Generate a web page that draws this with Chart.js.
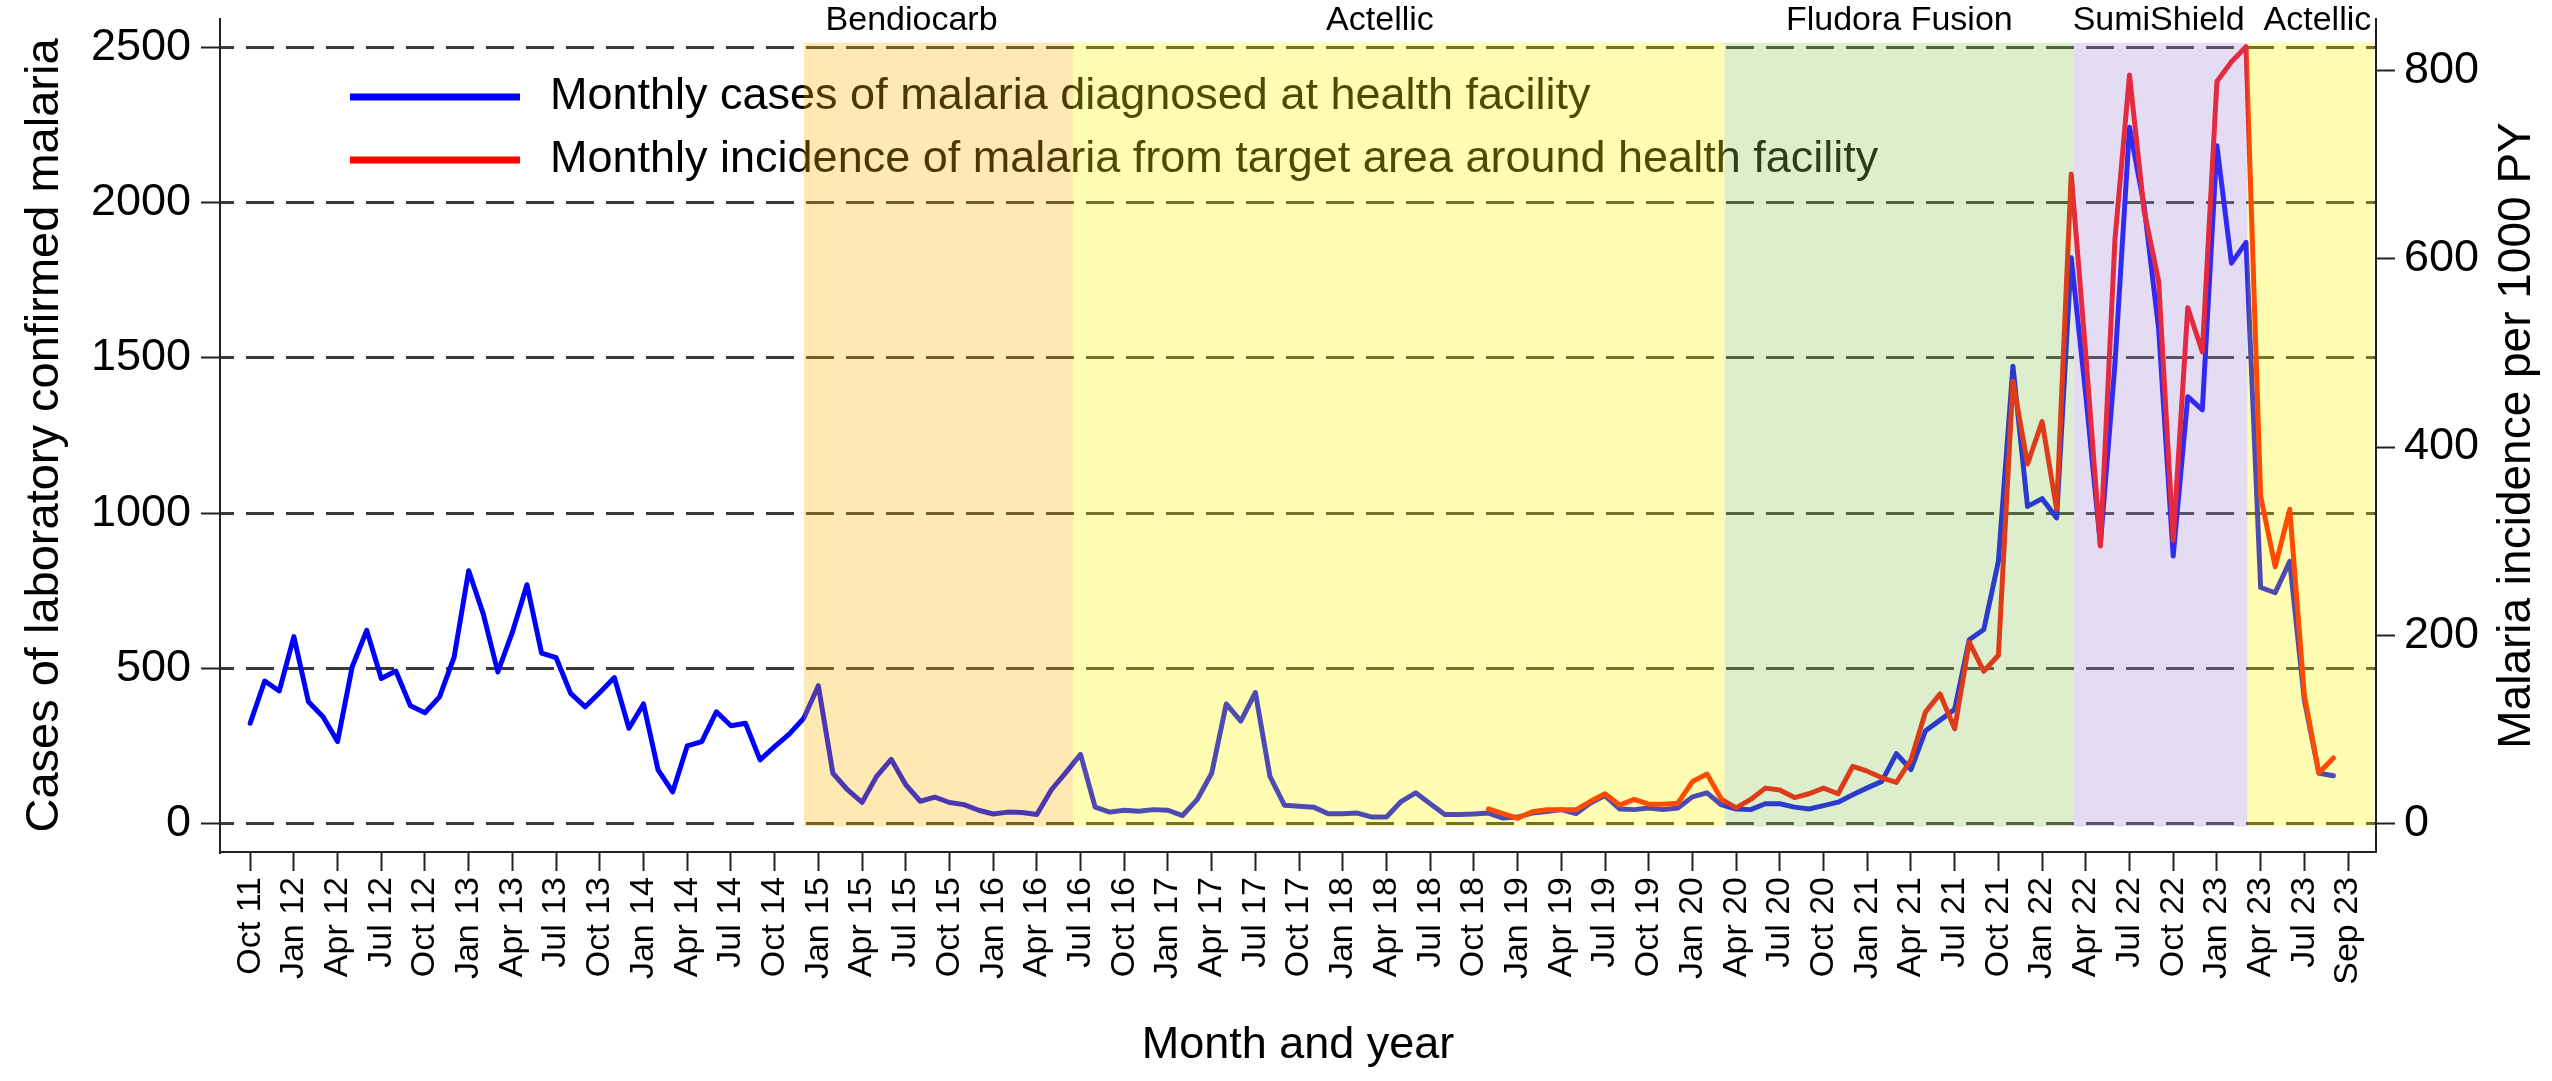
<!DOCTYPE html>
<html>
<head>
<meta charset="utf-8">
<script src="https://cdn.jsdelivr.net/npm/chart.js@4.4.1/dist/chart.umd.min.js"></script>
<style>
  html, body { margin: 0; padding: 0; background: #fff; }
  #wrap { width: 2552px; height: 1081px; }
</style>
</head>
<body>
<div id="wrap"><canvas id="malariaChart" width="2552" height="1081"></canvas></div>
<script>
// monthly series, index 0 = Oct 2011, index 143 = Sep 2023

// cases of laboratory confirmed malaria at the health facility (left axis)
const casesMonthly = [
  324, 460, 428, 603, 393, 345, 265, 505, 623, 468, 492, 380,
  358, 409, 537, 815, 676, 489, 617, 770, 550, 535, 420, 377,
  423, 471, 308, 386, 174, 103, 251, 265, 361, 316, 324, 206,
  249, 289, 340, 445, 163, 110, 69, 153, 208, 126, 73, 86,
  69, 62, 44, 32, 38, 37, 30, 110, 166, 224, 54, 38,
  44, 41, 46, 44, 27, 78, 163, 386, 331, 423, 153, 60,
  57, 54, 33, 33, 35, 22, 22, 72, 100, 65, 30, 30,
  32, 35, 19, 22, 35, 40, 46, 33, 67, 91, 48, 46,
  51, 46, 51, 87, 100, 61, 48, 46, 65, 65, 54, 48,
  59, 70, 94, 116, 137, 226, 175, 300, 334, 369, 593, 626,
  845, 1473, 1022, 1047, 985, 1822, 1380, 900, 1480, 2242, 1990, 1594,
  862, 1375, 1333, 2183, 1805, 1872, 761, 744, 845, 399, 163, 155
];

// incidence per 1000 PY in the target area (right axis), starts Nov 2018
const incidenceStart = 85;
const incidenceMonthly = [
  16, 11, 6, 13, 15, 15, 15, 24, 32, 20, 26, 21,
  21, 22, 45, 53, 26, 17, 26, 38, 36, 28, 32, 38,
  32, 61, 56, 49, 44, 68, 119, 138, 101, 193, 162, 179,
  470, 382, 427, 334, 690, 498, 295, 620, 795, 651, 576, 301,
  548, 501, 788, 809, 825, 348, 273, 334, 137, 54, 70
];

const tickLabels = [
  'Oct 11',
  'Jan 12', 'Apr 12', 'Jul 12', 'Oct 12',
  'Jan 13', 'Apr 13', 'Jul 13', 'Oct 13',
  'Jan 14', 'Apr 14', 'Jul 14', 'Oct 14',
  'Jan 15', 'Apr 15', 'Jul 15', 'Oct 15',
  'Jan 16', 'Apr 16', 'Jul 16', 'Oct 16',
  'Jan 17', 'Apr 17', 'Jul 17', 'Oct 17',
  'Jan 18', 'Apr 18', 'Jul 18', 'Oct 18',
  'Jan 19', 'Apr 19', 'Jul 19', 'Oct 19',
  'Jan 20', 'Apr 20', 'Jul 20', 'Oct 20',
  'Jan 21', 'Apr 21', 'Jul 21', 'Oct 21',
  'Jan 22', 'Apr 22', 'Jul 22', 'Oct 22',
  'Jan 23', 'Apr 23', 'Jul 23', 'Sep 23'
];
const leftTicks = [0, 500, 1000, 1500, 2000, 2500];
const rightTicks = [0, 200, 400, 600, 800];

// spraying campaigns (month index on the x axis)
const bandNames = ['Bendiocarb', 'Actellic', 'Fludora Fusion', 'SumiShield', 'Actellic'];
const bandFrom = [38.0, 56.5, 101.2, 125.1, 137.1];
const bandTo = [56.5, 101.2, 125.1, 137.1, 145.8];
const bandLabelAt = [45.4, 77.55, 113.2, 131.0, 141.9];

const legendLabels = [
  'Monthly cases of malaria diagnosed at health facility',
  'Monthly incidence of malaria from target area around health facility'
];

const FONT = "'Liberation Sans', Arial, sans-serif";
Chart.defaults.font.family = FONT;
Chart.defaults.color = '#000';

const bandColors = [
  'rgba(252,182,2,0.3)',
  'rgba(255,248,0,0.3)',
  'rgba(142,198,85,0.3)',
  'rgba(162,138,212,0.3)',
  'rgba(255,248,0,0.3)'
];

const overlayPlugin = {
  id: 'overlay',
  afterDatasetsDraw(chart) {
    const { ctx, scales: { x, y } } = chart;
    ctx.save();

    // legend (sits under the band shading, as in the original)
    const legendColors = ['#0000ff', '#ff0000'];
    const legendY = [97, 160];
    ctx.font = '45px ' + FONT;
    ctx.textBaseline = 'middle';
    ctx.textAlign = 'left';
    for (let i = 0; i < legendLabels.length; i++) {
      ctx.strokeStyle = legendColors[i];
      ctx.lineWidth = 7;
      ctx.beginPath();
      ctx.moveTo(350, legendY[i]);
      ctx.lineTo(520, legendY[i]);
      ctx.stroke();
      ctx.fillStyle = '#000';
      ctx.fillText(legendLabels[i], 550, legendY[i]);
    }

    // translucent campaign bands drawn over the lines
    const top = y.getPixelForValue(2514);
    const bottom = y.getPixelForValue(-8);
    for (let i = 0; i < bandNames.length; i++) {
      const x0 = x.getPixelForValue(bandFrom[i]);
      const x1 = x.getPixelForValue(bandTo[i]);
      ctx.fillStyle = bandColors[i];
      ctx.fillRect(x0, top, x1 - x0, bottom - top);
    }

    // campaign names above the plot
    ctx.fillStyle = '#000';
    ctx.font = '34px ' + FONT;
    ctx.textAlign = 'center';
    ctx.textBaseline = 'alphabetic';
    for (let i = 0; i < bandNames.length; i++) {
      ctx.fillText(bandNames[i], x.getPixelForValue(bandLabelAt[i]), 30);
    }

    // right axis title reads bottom to top
    ctx.translate(chart.width - 35, (chart.chartArea.top + chart.chartArea.bottom) / 2);
    ctx.rotate(-Math.PI / 2);
    ctx.font = '46px ' + FONT;
    ctx.textBaseline = 'middle';
    ctx.fillText('Malaria incidence per 1000 PY', 0, 0);
    ctx.restore();
  }
};

const casesPoints = casesMonthly.map((v, i) => ({ x: i, y: v }));
const incidencePoints = incidenceMonthly.map((v, i) => ({ x: incidenceStart + i, y: v }));

// keep the y axes from reserving room for half-label overhang
function fixVertical(width) {
  return s => { s.width = width; s.paddingTop = 0; s.paddingBottom = 0; };
}

const ctx = document.getElementById('malariaChart');
new Chart(ctx, {
  type: 'line',
  data: {
    datasets: [
      {
        label: legendLabels[1],
        data: incidencePoints,
        yAxisID: 'y2',
        borderColor: '#ff0000',
        backgroundColor: '#ff0000',
        borderWidth: 5,
        pointRadius: 0,
        borderJoinStyle: 'round',
        borderCapStyle: 'round',
        tension: 0,
        order: 0
      },
      {
        label: legendLabels[0],
        data: casesPoints,
        yAxisID: 'y',
        borderColor: '#0000ff',
        backgroundColor: '#0000ff',
        borderWidth: 5,
        pointRadius: 0,
        borderJoinStyle: 'round',
        borderCapStyle: 'round',
        tension: 0,
        order: 1
      }
    ]
  },
  options: {
    responsive: false,
    devicePixelRatio: 1,
    animation: false,
    layout: { padding: { top: 19, left: 0, right: 0, bottom: 0 } },
    plugins: {
      legend: { display: false },
      tooltip: { enabled: false },
      title: { display: false }
    },
    scales: {
      x: {
        type: 'linear',
        min: -2.07,
        max: 145.92,
        afterBuildTicks: s => { s.ticks = tickLabels.map((_, i) => ({ value: i * 3 })); },
        afterFit: s => { s.height = 229; s.paddingLeft = 0; s.paddingRight = 0; },
        ticks: {
          autoSkip: false,
          minRotation: 90,
          maxRotation: 90,
          padding: 6,
          font: { size: 34 },
          color: '#000',
          callback: (v, i) => tickLabels[i]
        },
        grid: { display: true, drawOnChartArea: false, drawTicks: true, tickLength: 19, tickColor: '#222', tickWidth: 2 },
        border: { display: true, color: '#222', width: 2 },
        title: { display: true, text: 'Month and year', font: { size: 45 }, color: '#000', padding: { top: 0, bottom: 8 } }
      },
      y: {
        position: 'left',
        min: -90.4,
        max: 2590.8,
        afterBuildTicks: s => { s.ticks = leftTicks.map(v => ({ value: v })); },
        afterFit: fixVertical(220),
        ticks: { padding: 10, font: { size: 45 }, color: '#000', callback: v => String(v) },
        grid: {
          display: true, drawOnChartArea: true, drawTicks: true,
          color: '#3a3a3a', lineWidth: 3,
          tickLength: 19, tickColor: '#222', tickWidth: 2, tickBorderDash: []
        },
        border: { display: true, color: '#222', width: 2, dash: [28, 12], dashOffset: 15 },
        title: { display: true, text: 'Cases of laboratory confirmed malaria', font: { size: 47 }, color: '#000', padding: { top: 17, bottom: 0 } }
      },
      y2: {
        position: 'right',
        min: -29.8,
        max: 854.4,
        afterBuildTicks: s => { s.ticks = rightTicks.map(v => ({ value: v })); },
        afterFit: fixVertical(176),
        ticks: { padding: 9, font: { size: 45 }, color: '#000', callback: v => String(v) },
        grid: { display: true, drawOnChartArea: false, drawTicks: true, tickLength: 19, tickColor: '#222', tickWidth: 2 },
        border: { display: true, color: '#222', width: 2 },
        title: { display: false }
      }
    }
  },
  plugins: [overlayPlugin]
});
</script>
</body>
</html>
